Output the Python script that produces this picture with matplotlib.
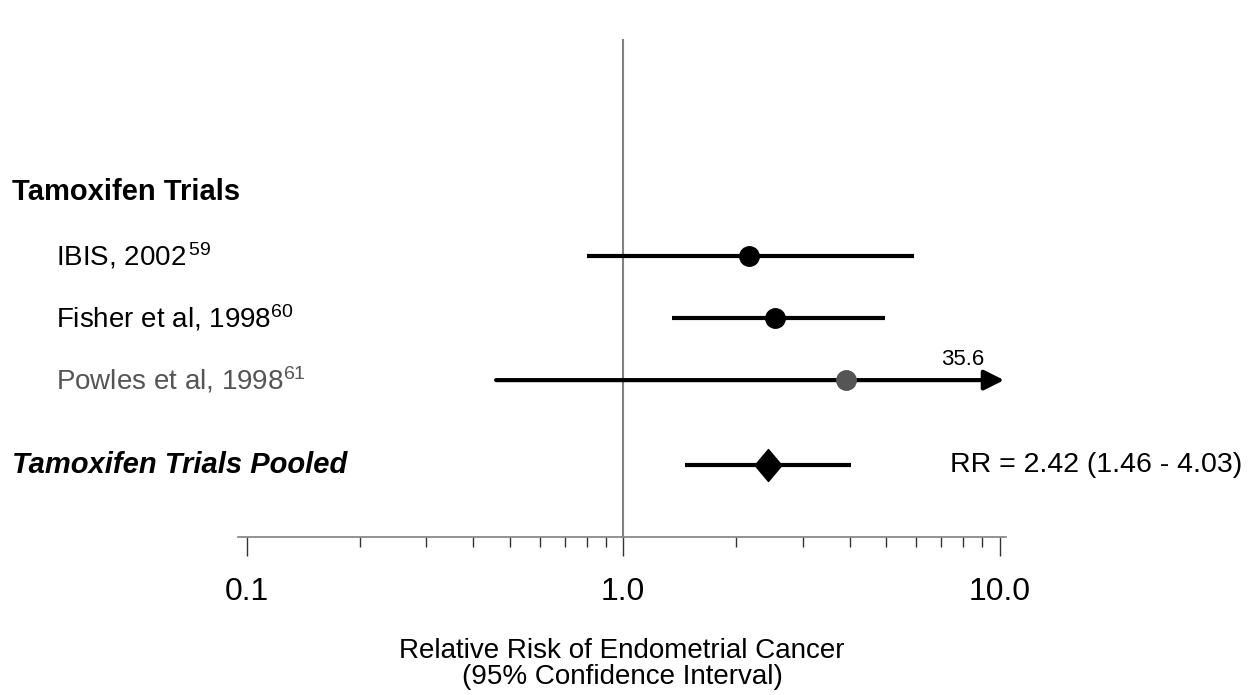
import numpy as np
import matplotlib.pyplot as plt
from matplotlib.path import Path

plt.rcParams['font.family'] = ['Liberation Sans', 'DejaVu Sans']
plt.rcParams['mathtext.fontset'] = 'custom'
plt.rcParams['mathtext.rm'] = 'Liberation Sans'
plt.rcParams['mathtext.it'] = 'Liberation Sans:italic'
plt.rcParams['mathtext.bf'] = 'Liberation Sans:bold'

# individual trials
studies = ['IBIS, 2002$^{\\,59}$', 'Fisher et al, 1998$^{60}$', 'Powles et al, 1998$^{61}$']
rr = [2.16, 2.53, 3.91]
ci_low = [0.80, 1.35, 0.46]
ci_high = [5.93, 4.97, 35.6]
study_colors = ['black', 'black', '#555555']

# pooled estimate
pooled_label = 'Tamoxifen Trials Pooled'
pooled_rr = 2.42
pooled_low = 1.46
pooled_high = 4.03

group_label = 'Tamoxifen Trials'
xticks = [0.1, 1.0, 10.0]
xticklabels = ['0.1', '1.0', '10.0']
minor_ticks = [0.2, 0.3, 0.4, 0.5, 0.6, 0.7, 0.8, 0.9, 2, 3, 4, 5, 6, 7, 8, 9]


if __name__ == '__main__':

    fig = plt.figure(figsize=(12.5, 6.95), dpi=100)
    ax = fig.add_axes([238 / 1250, 1 - 537 / 695, 768 / 1250, 537 / 695])
    ax.set_xscale('log')
    x_lo, x_hi = 10 ** -1.0226, 10 ** 1.017
    ax.set_xlim(x_lo, x_hi)
    ax.set_ylim(-1.53, 7.13)

    # row positions (layout)
    y_group = 4.03
    y_rows = [3, 2, 1]
    y_pooled = -0.37
    txt_dy = 0.0
    arrow_tip = 10.28

    # line of no effect
    ax.plot([1, 1], [-1.53, 6.48], color='#808080', lw=1.5, zorder=1)

    for y, est, lo, hi, c in zip(y_rows, rr, ci_low, ci_high, study_colors):
        if hi > x_hi:
            ax.annotate('', xy=(arrow_tip, y), xytext=(lo, y),
                        arrowprops=dict(arrowstyle='-|>', lw=3, color='black',
                                        mutation_scale=30, shrinkA=0, shrinkB=0),
                        zorder=2)
            ax.annotate('%.1f' % hi, xy=(arrow_tip, y), xytext=(-14, 11),
                        textcoords='offset points', ha='right', va='baseline',
                        fontsize=16)
        else:
            ax.plot([lo, hi], [y, y], color='black', lw=3, solid_capstyle='butt', zorder=2)
        ax.plot(est, y, 'o', color=c, ms=14, zorder=3)

    # pooled
    diamond = Path([(0, 1), (0.84, 0), (0, -1), (-0.84, 0), (0, 1)],
                   [Path.MOVETO, Path.LINETO, Path.LINETO, Path.LINETO, Path.CLOSEPOLY])
    ax.plot([pooled_low, pooled_high], [y_pooled, y_pooled], color='black', lw=3,
            solid_capstyle='butt', zorder=2)
    ax.plot(pooled_rr, y_pooled, marker=diamond, color='black', ms=23, zorder=3)

    # labels
    tr = ax.get_yaxis_transform()
    ax.text(-0.2943, y_group + txt_dy, group_label, transform=tr, fontsize=21,
            fontweight='bold', va='center', ha='left')
    for y, name, c in zip(y_rows, studies, study_colors):
        ax.text(-0.237, y + txt_dy, name, transform=tr, fontsize=20, color=c,
                va='center', ha='left')
    ax.text(-0.2943, y_pooled + txt_dy, pooled_label, transform=tr, fontsize=21,
            fontweight='bold', fontstyle='italic', va='center', ha='left')
    ax.text(0.927, y_pooled + txt_dy,
            'RR = %.2f (%.2f - %.2f)' % (pooled_rr, pooled_low, pooled_high),
            transform=tr, fontsize=20.5, va='center', ha='left')

    # axis styling
    for s in ['top', 'right', 'left']:
        ax.spines[s].set_visible(False)
    ax.spines['bottom'].set_color('#808080')
    ax.spines['bottom'].set_linewidth(1.2)
    ax.set_yticks([])
    ax.set_xticks(xticks, xticklabels)
    ax.set_xticks(minor_ticks, minor=True)
    ax.xaxis.set_minor_formatter(plt.NullFormatter())
    ax.tick_params(axis='x', which='major', length=14, width=1, color='#333333',
                   pad=15, labelsize=23)
    ax.tick_params(axis='x', which='minor', length=7, width=1, color='#333333')

    ax.set_xlabel('Relative Risk of Endometrial Cancer\n(95% Confidence Interval)',
                  fontsize=20, linespacing=1.0, va='top')
    ax.xaxis.set_label_coords(0.5, -0.188)

    plt.savefig('out.png', dpi=100)
